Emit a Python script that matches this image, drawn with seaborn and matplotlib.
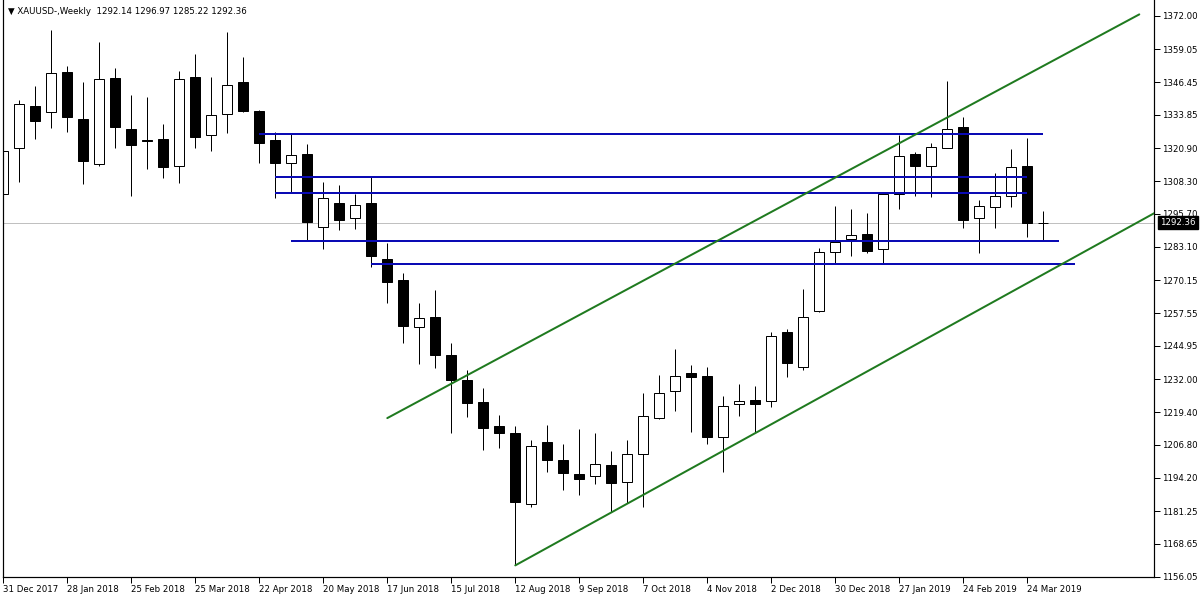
import matplotlib
matplotlib.use("Agg")
import matplotlib.pyplot as plt
import matplotlib.transforms as mtransforms
import numpy as np
import pandas as pd
import seaborn as sns

# weekly XAUUSD candles, 31 Dec 2017 .. 31 Mar 2019
opens = [1303.2, 1320.9, 1337.2, 1334.8, 1350.3, 1332.2, 1314.8, 1348.0, 1328.4, 1324.2,
         1324.5, 1314.0, 1348.4, 1326.2, 1334.0, 1346.5, 1335.2, 1324.1, 1315.2, 1318.8,
         1290.8, 1299.9, 1294.0, 1299.9, 1278.3, 1270.2, 1252.0, 1256.0, 1241.4, 1231.8,
         1223.3, 1214.0, 1211.3, 1183.9, 1207.9, 1200.9, 1195.5, 1194.7, 1199.0, 1192.4,
         1203.1, 1217.3, 1227.4, 1234.4, 1233.2, 1209.9, 1222.4, 1224.1, 1223.8, 1250.2,
         1236.6, 1258.2, 1280.9, 1285.9, 1288.0, 1282.1, 1303.2, 1318.8, 1314.3, 1321.2,
         1329.0, 1294.0, 1298.2, 1302.5, 1314.1, 1292.14]
highs = [1326.7, 1339.5, 1344.9, 1366.5, 1352.6, 1346.5, 1361.9, 1351.9, 1341.5, 1340.7,
         1330.3, 1350.8, 1357.3, 1348.4, 1365.7, 1356.0, 1335.7, 1327.1, 1326.3, 1322.6,
         1308.0, 1306.8, 1303.5, 1309.8, 1284.4, 1272.9, 1261.4, 1266.4, 1246.0, 1235.6,
         1228.7, 1218.3, 1214.0, 1208.7, 1214.4, 1207.1, 1212.9, 1211.4, 1204.4, 1208.7,
         1226.7, 1233.7, 1243.7, 1237.5, 1236.8, 1225.5, 1230.2, 1229.4, 1250.1, 1251.4,
         1266.8, 1282.5, 1298.7, 1297.6, 1295.9, 1303.9, 1326.1, 1319.5, 1323.0, 1346.9,
         1333.0, 1301.0, 1311.4, 1320.7, 1324.9, 1296.97]
lows = [1302.5, 1308.1, 1324.4, 1328.6, 1327.3, 1307.1, 1314.3, 1321.2, 1302.6, 1313.0,
        1309.6, 1307.5, 1321.2, 1320.0, 1326.9, 1335.0, 1315.4, 1301.9, 1304.1, 1285.4,
        1282.3, 1289.6, 1290.0, 1275.4, 1261.5, 1246.1, 1238.0, 1236.5, 1211.5, 1217.6,
        1204.7, 1205.7, 1160.5, 1183.0, 1196.5, 1189.4, 1187.6, 1191.8, 1180.9, 1184.3,
        1183.0, 1216.9, 1219.9, 1211.9, 1207.0, 1196.5, 1218.0, 1211.9, 1221.5, 1233.0,
        1235.6, 1258.0, 1276.7, 1279.6, 1280.8, 1276.5, 1297.7, 1302.7, 1302.2, 1320.9,
        1290.4, 1280.8, 1290.4, 1298.2, 1286.9, 1285.22]
closes = [1319.9, 1337.9, 1331.6, 1349.9, 1333.1, 1316.2, 1347.5, 1329.3, 1322.3, 1323.6,
          1313.9, 1347.6, 1325.4, 1333.6, 1345.2, 1335.4, 1323.1, 1315.2, 1318.3, 1292.7,
          1301.7, 1293.5, 1299.0, 1279.6, 1269.6, 1252.7, 1255.5, 1241.5, 1231.9, 1223.0,
          1213.4, 1211.5, 1184.9, 1206.2, 1201.1, 1196.1, 1193.8, 1199.4, 1192.2, 1203.1,
          1217.8, 1226.6, 1233.2, 1233.0, 1209.9, 1221.6, 1223.7, 1222.4, 1248.7, 1238.4,
          1255.9, 1280.9, 1285.0, 1287.6, 1281.5, 1303.5, 1317.9, 1314.3, 1321.3, 1328.3,
          1293.5, 1298.6, 1302.5, 1313.6, 1292.3, 1292.36]

date_labels = ["31 Dec 2017", "28 Jan 2018", "25 Feb 2018", "25 Mar 2018", "22 Apr 2018",
               "20 May 2018", "17 Jun 2018", "15 Jul 2018", "12 Aug 2018", "9 Sep 2018",
               "7 Oct 2018", "4 Nov 2018", "2 Dec 2018", "30 Dec 2018", "27 Jan 2019",
               "24 Feb 2019", "24 Mar 2019"]
price_ticks = [1372.00, 1359.05, 1346.45, 1333.85, 1320.90, 1308.30, 1295.70, 1283.10,
               1270.15, 1257.55, 1244.95, 1232.00, 1219.40, 1206.80, 1194.20, 1181.25,
               1168.65, 1156.05]

# horizontal levels: start bar, end bar, price
level_start = [16, 17, 17, 18, 23]
level_end = [65, 64, 64, 66, 67]
level_price = [1326.6, 1309.9, 1303.8, 1285.4, 1276.5]

# channel lines: (bar, price) anchors
upper_bars = [24, 71.0]
upper_prices = [1217.1, 1372.5]
lower_bars = [32, 72.5]
lower_prices = [1160.4, 1297.9]

title = "XAUUSD-,Weekly  1292.14 1296.97 1285.22 1292.36"

df = pd.DataFrame({"open": opens, "high": highs, "low": lows, "close": closes})
df["bar"] = np.arange(len(df))
df["bull"] = df["close"] >= df["open"]

sns.set_theme(style="white")
plt.rcParams["font.family"] = ["DejaVu Sans"]

fig = plt.figure(figsize=(12, 6), dpi=100)
ax = fig.add_axes([2.5 / 1200, 1 - 577 / 600, (1154 - 2.5) / 1200, 577 / 600])
px = 0.72  # one pixel in points

# current price line
last = closes[-1]
ax.axhline(last, color="#c0c0c0", lw=px, zorder=0.5)

# wicks
ax.vlines(df["bar"], df["low"], df["high"], color="black", lw=px, zorder=1)

# bodies
body_bottom = df[["open", "close"]].min(axis=1)
body_height = (df["close"] - df["open"]).abs().clip(lower=0.15)
ax.bar(df["bar"], body_height, bottom=body_bottom, width=0.6,
       color=np.where(df["bull"], "white", "black"), edgecolor="black",
       linewidth=px, zorder=2)

# horizontal levels
ax.hlines(level_price, level_start, level_end, color="#0a0ab4", lw=2 * px, zorder=3)

# channel
ax.plot(upper_bars, upper_prices, color="#1f7a1f", lw=2 * px, zorder=3)
ax.plot(lower_bars, lower_prices, color="#1f7a1f", lw=2 * px, zorder=3)

ax.set_xlim(-0.05, 71.92)
ax.set_ylim(1155.93, 1378.04)

ax.set_xticks(np.arange(0, len(df), 4)[:len(date_labels)])
ax.set_xticklabels(date_labels, ha="left")
ax.yaxis.tick_right()
ax.set_yticks(price_ticks)
ax.set_yticklabels([f"{p:.2f}" for p in price_ticks])
ax.tick_params(axis="x", direction="out", length=4, width=px, pad=2, labelsize=6.2,
               colors="black", bottom=True)
ax.tick_params(axis="y", direction="out", length=4, width=px, pad=2, labelsize=6.2,
               colors="black", right=True, left=False)

for side in ["left", "right", "bottom"]:
    ax.spines[side].set_color("black")
    ax.spines[side].set_linewidth(px * 1.2)
ax.spines["top"].set_visible(False)

ax.annotate("\u25BC " + title, xy=(0, 1), xycoords="axes fraction", xytext=(5, -11),
            textcoords="offset pixels", ha="left", va="center", fontsize=6.2, color="black")

trans = mtransforms.blended_transform_factory(ax.transAxes, ax.transData)
ax.annotate(f"{last:.2f}", xy=(1, last), xycoords=trans, xytext=(6, 0),
            textcoords="offset pixels", ha="left", va="center", fontsize=6.2, color="white",
            bbox=dict(boxstyle="square,pad=0.25", fc="black", ec="black"),
            annotation_clip=False, zorder=5)

fig.savefig("out.png", dpi=100, facecolor="white")
